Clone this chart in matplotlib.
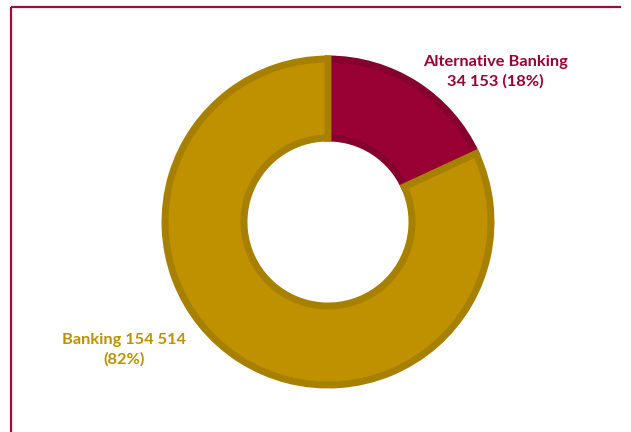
import matplotlib.pyplot as plt

labels = ["Alternative Banking", "Banking"]
values = [34153, 154514]
shares = [18, 82]
colors = ["#990033", "#BF9000"]
edge_colors = ["#85002C", "#A88000"]

fig = plt.figure(figsize=(6.31, 4.32), dpi=100)
ax = fig.add_axes([0, 0, 1, 1])

wedges, _ = ax.pie(values, colors=colors, startangle=90, counterclock=False,
                   center=(328, 210), radius=163,
                   wedgeprops=dict(width=79, linewidth=5))
for w, ec in zip(wedges, edge_colors):
    w.set_edgecolor(ec)

# pie resets the limits, so set them afterwards (1 unit = 1 pixel)
ax.set_xlim(0, 631)
ax.set_ylim(0, 432)
ax.set_aspect("equal")
ax.axis("off")

def fmt(v):
    return f"{v:,}".replace(",", " ")

ax.text(495, 360, f"{labels[0]}\n{fmt(values[0])} ({shares[0]}%)", color="#990033",
        ha="center", va="center", fontsize=11.8, fontweight="bold", family="Lato",
        linespacing=1.45)
ax.text(124, 82, f"{labels[1]} {fmt(values[1])}\n({shares[1]}%)", color="#BF9000",
        ha="center", va="center", fontsize=11.8, fontweight="bold", family="Lato",
        linespacing=1.45)

# frame (top and left edge only visible)
ax.plot([11, 621], [425, 425], color="#A50A3A", lw=1.6, solid_capstyle="butt")
ax.plot([11, 11], [425, 0], color="#A50A3A", lw=1.6, solid_capstyle="butt")

fig.savefig("out.png", dpi=100)
